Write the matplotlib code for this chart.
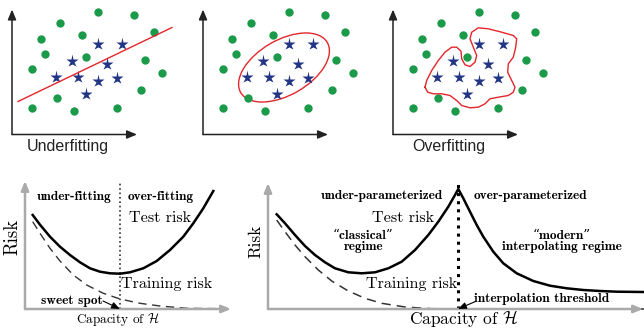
import matplotlib.pyplot as plt
from matplotlib.patches import Ellipse

# --- 上段: 散布図 (3パネル共通の点) ---
dot_x = [86, 122, 48, 142, 29, 70, 33, 74, 133, 20, 150, 129, 45, 20, 62, 105]
dot_y = [123, 120, 112, 103, 96, 100, 81, 78, 75, 66, 62, 45, 37, 27, 24, 27]
star_x = [86, 110, 60, 95, 44, 66, 86, 105, 74]
star_y = [91, 91, 74, 71, 58, 58, 54, 57, 41]

# underfitting の直線
line_x = [6, 160]
line_y = [33, 107]

# ちょうど良いフィット (楕円)
ell_center = (81, 67)
ell_width, ell_height, ell_angle = 100, 55, 30

# overfitting の境界線
over_x = [32, 33.7, 38.7, 45.3, 52, 58.7, 63.7, 68, 68.7, 72, 77, 82, 83.7, 80.3,
          77, 78.7, 85.3, 95.3, 108.7, 120.3, 123.7, 122.7, 120.3, 115.3, 114.7,
          118.7, 122, 120.3, 115.3, 105.3, 97, 92, 85.3, 77, 68.7, 63.7, 57,
          48.7, 40.3, 34.7, 32]
over_y = [47.3, 54, 64, 74, 82.3, 87.3, 87.3, 83.3, 75.7, 69.7, 68, 72.3, 79, 87.3,
          95.7, 102.3, 106.7, 105.7, 102.3, 99, 95.7, 87.3, 77.3, 70.7, 62.3,
          54, 47.3, 42.3, 39, 37.3, 35.7, 30.7, 27.3, 26.7, 29, 34, 39,
          40.7, 40.7, 42.3, 47.3]

top_labels = ['Underfitting', '', 'Overfitting']

# --- 下段左: U字カーブ ---
u_test_x = [7.7, 15, 25, 35, 45, 55, 65, 75, 85, 95, 105, 118.3, 131.7, 145, 158.3, 168.3, 178.3, 188.3]
u_test_y = [94, 84.3, 72.3, 62.3, 54, 46.7, 40.7, 37.3, 35.7, 35.3, 36.7, 40.7, 48, 59, 72.3, 85.7, 100.7, 118]
u_train_x = [7.7, 15, 25, 35, 48.3, 61.7, 78.3, 95, 115, 135, 161.7, 195]
u_train_y = [87.3, 75.7, 60.7, 48, 34, 24, 15.7, 10, 5.7, 3, 0.7, 0.3]
sweet_spot = 95

# --- 下段右: double descent ---
d_test_x = [8.7, 17, 27, 37, 47, 57, 67, 80.3, 93.7, 107, 120.3, 133.7, 147, 160.3,
            170.3, 180.3, 187, 190.3, 195.3, 202, 208.7, 215.3, 225.3, 235.3,
            248.7, 265.3, 282, 298.7, 315.3, 332, 348.7, 375.3]
d_test_y = [94.7, 85.7, 74, 63, 54, 46.7, 40.7, 36.7, 35.7, 36.7, 40.7, 47.3, 59, 74,
            87.3, 102.3, 114, 120, 110.7, 97.3, 84, 72.3, 57.3, 45.7,
            35.7, 28, 23.3, 20.7, 19, 18, 17.3, 17]
d_train_x = [8.7, 17, 27, 37, 50.3, 63.7, 80.3, 97, 113.7, 137, 163.7, 190.3, 376]
d_train_y = [89, 77.3, 64, 52.3, 39, 28, 18, 10.7, 5.7, 2, 0.3, 0, 0]
threshold = 190

W, H = 644, 328
SERIF = ['cmr10', 'DejaVu Serif']
BOLD = ['cmb10', 'DejaVu Serif']
SANS = ['Liberation Sans', 'DejaVu Sans']
SMALL = 9.6
plt.rcParams['mathtext.fontset'] = 'cm'

fig = plt.figure(figsize=(W / 100, H / 100), dpi=100)


def add_axes(ox, oy, w, h):
    # ox, oy: 原点のピクセル位置
    ax = fig.add_axes([ox / W, (H - oy) / H, w / W, h / H])
    ax.set_xlim(0, w)
    ax.set_ylim(0, h)
    ax.axis('off')
    return ax


def arrow(ax, start, end, color, lw, style='-|>,head_length=0.6,head_width=0.25', ms=10):
    ax.annotate('', xy=end, xytext=start, annotation_clip=False,
                arrowprops=dict(arrowstyle=style, color=color, lw=lw,
                                shrinkA=0, shrinkB=0, mutation_scale=ms))


# 上段の3パネル
for i, ox in enumerate([12, 203, 393]):
    ax = add_axes(ox, 134.5, 170, 128)
    arrow(ax, (0, 0), (0, 125), '#222222', 1.1)
    arrow(ax, (0, 0), (125, 0), '#222222', 1.1)
    ax.plot(dot_x, dot_y, 'o', color='#1b9a4a', ms=6, mec='none', clip_on=False)
    ax.plot(star_x, star_y, '*', color='#223585', ms=9.5, mec='none', clip_on=False)
    if i == 0:
        ax.plot(line_x, line_y, color='#e3262b', lw=1, clip_on=False)
    elif i == 1:
        ax.add_patch(Ellipse(ell_center, ell_width, ell_height, angle=ell_angle,
                             fill=False, ec='#e3262b', lw=1, clip_on=False))
    else:
        ax.plot(over_x, over_y, color='#e3262b', lw=1, clip_on=False)
    if top_labels[i]:
        ax.text(56, -12, top_labels[i], ha='center', va='center',
                family=SANS, fontsize=11.5, color='#222222')

# 下段左
ax = add_axes(25, 309, 208, 130)
arrow(ax, (0, 0), (206, 0), '#aaaaaa', 1.8, ms=9)
arrow(ax, (0, 0), (0, 128), '#aaaaaa', 1.8, ms=9)
ax.plot([sweet_spot, sweet_spot], [0, 127], ':', color='#333333', lw=1.2, clip_on=False)
ax.plot(u_test_x, u_test_y, color='black', lw=1.8, clip_on=False)
ax.plot(u_train_x, u_train_y, '--', color='#333333', lw=1, dashes=(6, 4), clip_on=False)
ax.text(49, 112, 'under-fitting', ha='center', va='center', family=BOLD, fontsize=SMALL)
ax.text(135.3, 112, 'over-fitting', ha='center', va='center', family=BOLD, fontsize=SMALL)
ax.text(135, 91, 'Test risk', ha='center', va='center', family=SERIF, fontsize=11.6)
ax.text(141.8, 24.7, 'Training risk', ha='center', va='center', family=SERIF, fontsize=11.6)
ax.text(78, 8, 'sweet spot', ha='right', va='center', family=BOLD, fontsize=SMALL)
arrow(ax, (78, 8), (sweet_spot, 0), 'black', 0.8, style='-|>,head_length=0.5,head_width=0.2', ms=10)
ax.text(-13, 72, 'Risk', rotation=90, ha='center', va='center', family=SERIF, fontsize=13.5)
ax.text(93, -10, r'Capacity of $\mathcal{H}$', ha='center', va='center',
        family=SERIF, fontsize=9.5)

# 下段右
ax = add_axes(268, 309, 376, 130)
arrow(ax, (0, 0), (375, 0), '#aaaaaa', 1.8, ms=9)
arrow(ax, (0, 0), (0, 126), '#aaaaaa', 1.8, ms=9)
ax.plot([threshold, threshold], [0, 128], ':', color='black', lw=2.2, clip_on=False)
ax.plot(d_test_x, d_test_y, color='black', lw=1.8, clip_on=False)
ax.plot(d_train_x, d_train_y, '--', color='#333333', lw=1.1, dashes=(6, 4), clip_on=False)
ax.text(113.7, 113.3, 'under-parameterized', ha='center', va='center', family=BOLD, fontsize=SMALL)
ax.text(262.5, 113.3, 'over-parameterized', ha='center', va='center', family=BOLD, fontsize=SMALL)
ax.text(134.5, 91.3, 'Test risk', ha='center', va='center', family=SERIF, fontsize=11.6)
ax.text(95.3, 73, '\u201cclassical\u201d', ha='center', va='center', family=BOLD, fontsize=SMALL)
ax.text(95.3, 62.3, 'regime', ha='center', va='center', family=BOLD, fontsize=SMALL)
ax.text(293.7, 73, '\u201cmodern\u201d', ha='center', va='center', family=BOLD, fontsize=SMALL)
ax.text(294, 62.3, 'interpolating regime', ha='center', va='center', family=BOLD, fontsize=SMALL)
ax.text(143.7, 24.7, 'Training risk', ha='center', va='center', family=SERIF, fontsize=11.6)
ax.text(274, 9.7, 'interpolation threshold', ha='center', va='center', family=BOLD, fontsize=SMALL)
arrow(ax, (207, 7.3), (threshold, 0), 'black', 0.8, style='-|>,head_length=0.5,head_width=0.2', ms=10)
ax.text(-12, 67.3, 'Risk', rotation=90, ha='center', va='center', family=SERIF, fontsize=12.3)
ax.text(196, -9.5, r'Capacity of $\mathcal{H}$', ha='center', va='center',
        family=SERIF, fontsize=12.5)

fig.savefig('out.png', dpi=100)
